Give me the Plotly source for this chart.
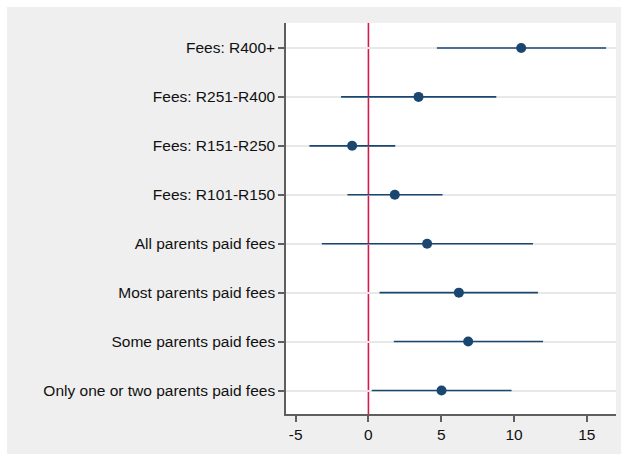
import plotly.graph_objects as go

# Coefficient estimates with 95% confidence intervals
labels = [
    "Fees: R400+",
    "Fees: R251-R400",
    "Fees: R151-R250",
    "Fees: R101-R150",
    "All parents paid fees",
    "Most parents paid fees",
    "Some parents paid fees",
    "Only one or two parents paid fees",
]
coef = [10.49, 3.44, -1.12, 1.81, 4.03, 6.21, 6.85, 5.02]
ci_low = [4.70, -1.88, -4.05, -1.44, -3.20, 0.76, 1.74, 0.23]
ci_high = [16.32, 8.78, 1.84, 5.09, 11.30, 11.64, 11.99, 9.83]

x_ticks = [-5, 0, 5, 10, 15]

navy = "#1a476f"
bg_gray = "#efefef"
axis_gray = "#5f5f5f"
font = "Liberation Sans, Arial, sans-serif"

fig = go.Figure()

fig.add_trace(go.Scatter(
    x=coef,
    y=labels,
    mode="markers",
    marker=dict(color=navy, size=10, line=dict(width=0)),
    error_x=dict(
        type="data",
        symmetric=False,
        array=[h - c for h, c in zip(ci_high, coef)],
        arrayminus=[c - l for c, l in zip(coef, ci_low)],
        color=navy,
        thickness=1.6,
        width=0,
    ),
    showlegend=False,
))

# Reference line at zero
fig.add_vline(x=0, line=dict(color="#d9184a", width=1.6), layer="below")

W, H = 621, 454
ml, mr, mt, mb = 286, 5, 23, 40
pw, ph = W - ml - mr, H - mt - mb

# White strips along the top and left edge of the page
fig.add_shape(type="rect", xref="paper", yref="paper",
              x0=(0 - ml) / pw, x1=(W - ml) / pw,
              y0=(H - mb - 7) / ph, y1=(H - mb) / ph,
              fillcolor="white", line=dict(width=0), layer="below")
fig.add_shape(type="rect", xref="paper", yref="paper",
              x0=(0 - ml) / pw, x1=(7 - ml) / pw,
              y0=-mb / ph, y1=(H - mb) / ph,
              fillcolor="white", line=dict(width=0), layer="below")

fig.update_layout(
    width=W, height=H,
    margin=dict(l=ml, r=mr, t=mt, b=mb, pad=0),
    paper_bgcolor=bg_gray,
    plot_bgcolor="white",
    font=dict(family=font, size=15.5, color="#111111"),
    xaxis=dict(
        range=[-5.66, 17.0],
        tickvals=x_ticks,
        ticktext=[str(v) for v in x_ticks],
        showgrid=False,
        zeroline=False,
        showline=True, linecolor=axis_gray, linewidth=1.5,
        ticks="outside", ticklen=6, tickwidth=1.5, tickcolor=axis_gray,
        tickfont=dict(size=15.5),
    ),
    yaxis=dict(
        type="category",
        categoryorder="array",
        categoryarray=labels,
        range=[7.48, -0.51],
        showgrid=True, gridcolor="#e8e8e8", gridwidth=1.5,
        zeroline=False,
        showline=True, linecolor=axis_gray, linewidth=1.5,
        ticks="outside", ticklen=6, tickwidth=1.5, tickcolor=axis_gray,
        tickfont=dict(size=15.5),
    ),
)

fig.write_html("out.html")
